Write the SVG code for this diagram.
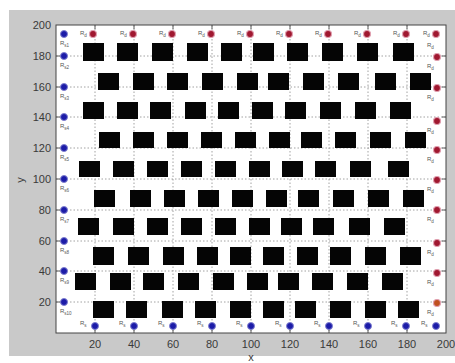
<svg xmlns="http://www.w3.org/2000/svg" width="455" height="363" viewBox="0 0 455 363">
<style>
.tick{font-family:"Liberation Sans",Arial,sans-serif;font-size:11px;fill:#3a3a3a}
.lbl{font-family:"Liberation Sans",Arial,sans-serif;font-size:6px;fill:#555}
.grid{stroke:#8a8a8a;stroke-width:0.8;stroke-dasharray:1.5,2;fill:none}
.blk{fill:#050505}
.bd{fill:#1c1ca8;stroke:#8080d0;stroke-width:1}
.rd{fill:#a01830;stroke:#e0a0b0;stroke-width:1.2}
.tk{stroke:#333;stroke-width:0.8}
</style>
<rect x="0" y="0" width="455" height="363" fill="#ffffff"/>
<rect x="9" y="10" width="446" height="346" fill="#c9c9c9"/>
<rect x="56" y="25" width="390" height="308" fill="#ffffff" stroke="#444" stroke-width="1"/>
<g id="grid">
<path class="grid" d="M95 25V333M134 25V333M173 25V333M212 25V333M251 25V333M290 25V333M329 25V333M368 25V333M407 25V333"/>
<path class="grid" d="M56 302H446M56 271H446M56 241H446M56 210H446M56 179H446M56 148H446M56 117H446M56 87H446M56 56H446"/>
</g>
<g id="ticks">
<path class="tk" d="M95 333v-4M134 333v-4M173 333v-4M212 333v-4M251 333v-4M290 333v-4M329 333v-4M368 333v-4M407 333v-4M95 25v4M134 25v4M173 25v4M212 25v4M251 25v4M290 25v4M329 25v4M368 25v4M407 25v4M56 302h4M56 271h4M56 241h4M56 210h4M56 179h4M56 148h4M56 117h4M56 87h4M56 56h4M446 302h-4M446 271h-4M446 241h-4M446 210h-4M446 179h-4M446 148h-4M446 117h-4M446 87h-4M446 56h-4"/>
</g>
<g id="ylabels" class="tick" text-anchor="end">
<text x="51" y="29">200</text>
<text x="51" y="60">180</text>
<text x="51" y="91">160</text>
<text x="51" y="121">140</text>
<text x="51" y="152">120</text>
<text x="51" y="183">100</text>
<text x="51" y="214">80</text>
<text x="51" y="245">60</text>
<text x="51" y="275">40</text>
<text x="51" y="306">20</text>
</g>
<g id="xlabels" class="tick" text-anchor="middle">
<text x="95" y="348">20</text>
<text x="134" y="348">40</text>
<text x="173" y="348">60</text>
<text x="212" y="348">80</text>
<text x="251" y="348">100</text>
<text x="290" y="348">120</text>
<text x="329" y="348">140</text>
<text x="368" y="348">160</text>
<text x="407" y="348">180</text>
<text x="446" y="348">200</text>
</g>
<text class="tick" x="251" y="361" text-anchor="middle">x</text>
<text class="tick" x="0" y="0" text-anchor="middle" transform="translate(24 180) rotate(-90)">y</text>
<g id="obstacles" class="blk">
<rect x="83" y="43" width="21" height="18"/><rect x="117" y="43" width="21" height="18"/><rect x="152" y="43" width="21" height="18"/><rect x="187" y="43" width="21" height="18"/><rect x="221" y="43" width="21" height="18"/><rect x="253" y="43" width="21" height="18"/><rect x="287" y="43" width="21" height="18"/><rect x="322" y="43" width="21" height="18"/><rect x="357" y="43" width="21" height="18"/><rect x="393" y="43" width="21" height="18"/>
<rect x="98" y="73" width="21" height="17"/><rect x="133" y="73" width="21" height="17"/><rect x="167" y="73" width="21" height="17"/><rect x="202" y="73" width="21" height="17"/><rect x="237" y="73" width="21" height="17"/><rect x="268" y="73" width="21" height="17"/><rect x="303" y="73" width="21" height="17"/><rect x="338" y="73" width="21" height="17"/><rect x="375" y="73" width="21" height="17"/><rect x="410" y="73" width="21" height="17"/>
<rect x="83" y="102" width="21" height="17"/><rect x="117" y="102" width="21" height="17"/><rect x="150" y="102" width="21" height="17"/><rect x="185" y="102" width="21" height="17"/><rect x="218" y="102" width="21" height="17"/><rect x="252" y="102" width="21" height="17"/><rect x="285" y="102" width="21" height="17"/><rect x="320" y="102" width="21" height="17"/><rect x="355" y="102" width="21" height="17"/><rect x="390" y="102" width="21" height="17"/>
<rect x="99" y="132" width="21" height="16"/><rect x="133" y="132" width="21" height="16"/><rect x="167" y="132" width="21" height="16"/><rect x="201" y="132" width="21" height="16"/><rect x="235" y="132" width="21" height="16"/><rect x="269" y="132" width="21" height="16"/><rect x="301" y="132" width="21" height="16"/><rect x="335" y="132" width="21" height="16"/><rect x="370" y="132" width="21" height="16"/><rect x="405" y="132" width="21" height="16"/>
<rect x="79" y="161" width="21" height="16"/><rect x="113" y="161" width="21" height="16"/><rect x="147" y="161" width="21" height="16"/><rect x="181" y="161" width="21" height="16"/><rect x="215" y="161" width="21" height="16"/><rect x="249" y="161" width="21" height="16"/><rect x="282" y="161" width="21" height="16"/><rect x="315" y="161" width="21" height="16"/><rect x="350" y="161" width="21" height="16"/><rect x="388" y="161" width="21" height="16"/>
<rect x="94" y="190" width="21" height="17"/><rect x="130" y="190" width="21" height="17"/><rect x="164" y="190" width="21" height="17"/><rect x="198" y="190" width="21" height="17"/><rect x="232" y="190" width="21" height="17"/><rect x="266" y="190" width="21" height="17"/><rect x="298" y="190" width="21" height="17"/><rect x="333" y="190" width="21" height="17"/><rect x="368" y="190" width="21" height="17"/><rect x="403" y="190" width="21" height="17"/>
<rect x="78" y="218" width="21" height="17"/><rect x="113" y="218" width="21" height="17"/><rect x="147" y="218" width="21" height="17"/><rect x="181" y="218" width="21" height="17"/><rect x="215" y="218" width="21" height="17"/><rect x="249" y="218" width="21" height="17"/><rect x="281" y="218" width="21" height="17"/><rect x="313" y="218" width="21" height="17"/><rect x="349" y="218" width="21" height="17"/><rect x="384" y="218" width="21" height="17"/>
<rect x="93" y="247" width="21" height="18"/><rect x="128" y="247" width="21" height="18"/><rect x="163" y="247" width="21" height="18"/><rect x="197" y="247" width="21" height="18"/><rect x="230" y="247" width="21" height="18"/><rect x="263" y="247" width="21" height="18"/><rect x="297" y="247" width="21" height="18"/><rect x="330" y="247" width="21" height="18"/><rect x="365" y="247" width="21" height="18"/><rect x="400" y="247" width="21" height="18"/>
<rect x="75" y="273" width="21" height="17"/><rect x="110" y="273" width="21" height="17"/><rect x="143" y="273" width="21" height="17"/><rect x="178" y="273" width="21" height="17"/><rect x="213" y="273" width="21" height="17"/><rect x="247" y="273" width="21" height="17"/><rect x="278" y="273" width="21" height="17"/><rect x="312" y="273" width="21" height="17"/><rect x="347" y="273" width="21" height="17"/><rect x="382" y="273" width="21" height="17"/>
<rect x="93" y="301" width="21" height="17"/><rect x="126" y="301" width="21" height="17"/><rect x="162" y="301" width="21" height="17"/><rect x="195" y="301" width="21" height="17"/><rect x="230" y="301" width="21" height="17"/><rect x="263" y="301" width="21" height="17"/><rect x="295" y="301" width="21" height="17"/><rect x="330" y="301" width="21" height="17"/><rect x="365" y="301" width="21" height="17"/><rect x="398" y="301" width="21" height="17"/>
</g>
<g id="blue-nodes">
<circle class="bd" cx="64" cy="34" r="3.5"/><circle class="bd" cx="64" cy="56" r="3.5"/><circle class="bd" cx="64" cy="87" r="3.5"/><circle class="bd" cx="64" cy="117" r="3.5"/><circle class="bd" cx="64" cy="148" r="3.5"/><circle class="bd" cx="64" cy="179" r="3.5"/><circle class="bd" cx="64" cy="210" r="3.5"/><circle class="bd" cx="64" cy="241" r="3.5"/><circle class="bd" cx="64" cy="271" r="3.5"/><circle class="bd" cx="64" cy="302" r="3.5"/>
<circle class="bd" cx="95" cy="326" r="3.5"/><circle class="bd" cx="134" cy="326" r="3.5"/><circle class="bd" cx="173" cy="326" r="3.5"/><circle class="bd" cx="212" cy="326" r="3.5"/><circle class="bd" cx="251" cy="326" r="3.5"/><circle class="bd" cx="290" cy="326" r="3.5"/><circle class="bd" cx="329" cy="326" r="3.5"/><circle class="bd" cx="368" cy="326" r="3.5"/><circle class="bd" cx="406" cy="326" r="3.5"/><circle class="bd" cx="436" cy="326" r="3.5"/>
</g>
<g id="red-nodes">
<circle class="rd" cx="93" cy="34" r="3.5"/><circle class="rd" cx="133" cy="34" r="3.5"/><circle class="rd" cx="172" cy="34" r="3.5"/><circle class="rd" cx="211" cy="34" r="3.5"/><circle class="rd" cx="250" cy="34" r="3.5"/><circle class="rd" cx="289" cy="34" r="3.5"/><circle class="rd" cx="328" cy="34" r="3.5"/><circle class="rd" cx="367" cy="34" r="3.5"/><circle class="rd" cx="406" cy="34" r="3.5"/><circle class="rd" cx="436" cy="34" r="3.5"/>
<circle class="rd" cx="437" cy="57" r="3.5"/><circle class="rd" cx="437" cy="88" r="3.5"/><circle class="rd" cx="437" cy="121" r="3.5"/><circle class="rd" cx="437" cy="150" r="3.5"/><circle class="rd" cx="437" cy="180" r="3.5"/><circle class="rd" cx="437" cy="210" r="3.5"/><circle class="rd" cx="437" cy="243" r="3.5"/><circle class="rd" cx="437" cy="273" r="3.5"/><circle class="rd" cx="437" cy="303" r="3.5" style="fill:#c05020"/>
</g>
<g id="labels" class="lbl">
<text x="60" y="45">R<tspan font-size="4.5" dy="2">s1</tspan></text>
<text x="60" y="67">R<tspan font-size="4.5" dy="2">s2</tspan></text>
<text x="60" y="98">R<tspan font-size="4.5" dy="2">s3</tspan></text>
<text x="60" y="128">R<tspan font-size="4.5" dy="2">s4</tspan></text>
<text x="60" y="159">R<tspan font-size="4.5" dy="2">s5</tspan></text>
<text x="60" y="190">R<tspan font-size="4.5" dy="2">s6</tspan></text>
<text x="60" y="221">R<tspan font-size="4.5" dy="2">s7</tspan></text>
<text x="60" y="252">R<tspan font-size="4.5" dy="2">s8</tspan></text>
<text x="60" y="282">R<tspan font-size="4.5" dy="2">s9</tspan></text>
<text x="60" y="313">R<tspan font-size="4.5" dy="2">s10</tspan></text>
<text x="80" y="325">R<tspan font-size="4.5" dy="2">s</tspan></text>
<text x="119" y="325">R<tspan font-size="4.5" dy="2">s</tspan></text>
<text x="158" y="325">R<tspan font-size="4.5" dy="2">s</tspan></text>
<text x="197" y="325">R<tspan font-size="4.5" dy="2">s</tspan></text>
<text x="236" y="325">R<tspan font-size="4.5" dy="2">s</tspan></text>
<text x="275" y="325">R<tspan font-size="4.5" dy="2">s</tspan></text>
<text x="314" y="325">R<tspan font-size="4.5" dy="2">s</tspan></text>
<text x="353" y="325">R<tspan font-size="4.5" dy="2">s</tspan></text>
<text x="391" y="325">R<tspan font-size="4.5" dy="2">s</tspan></text>
<text x="421" y="325">R<tspan font-size="4.5" dy="2">s</tspan></text>
<text x="80" y="35">R<tspan font-size="4.5" dy="2">d</tspan></text>
<text x="120" y="35">R<tspan font-size="4.5" dy="2">d</tspan></text>
<text x="159" y="35">R<tspan font-size="4.5" dy="2">d</tspan></text>
<text x="198" y="35">R<tspan font-size="4.5" dy="2">d</tspan></text>
<text x="237" y="35">R<tspan font-size="4.5" dy="2">d</tspan></text>
<text x="276" y="35">R<tspan font-size="4.5" dy="2">d</tspan></text>
<text x="315" y="35">R<tspan font-size="4.5" dy="2">d</tspan></text>
<text x="354" y="35">R<tspan font-size="4.5" dy="2">d</tspan></text>
<text x="393" y="35">R<tspan font-size="4.5" dy="2">d</tspan></text>
<text x="423" y="35">R<tspan font-size="4.5" dy="2">d</tspan></text>
<text x="427" y="47">R<tspan font-size="4.5" dy="2">d</tspan></text>
<text x="427" y="68">R<tspan font-size="4.5" dy="2">d</tspan></text>
<text x="427" y="99">R<tspan font-size="4.5" dy="2">d</tspan></text>
<text x="427" y="132">R<tspan font-size="4.5" dy="2">d</tspan></text>
<text x="427" y="161">R<tspan font-size="4.5" dy="2">d</tspan></text>
<text x="427" y="191">R<tspan font-size="4.5" dy="2">d</tspan></text>
<text x="427" y="221">R<tspan font-size="4.5" dy="2">d</tspan></text>
<text x="427" y="254">R<tspan font-size="4.5" dy="2">d</tspan></text>
<text x="427" y="284">R<tspan font-size="4.5" dy="2">d</tspan></text>
<text x="427" y="314">R<tspan font-size="4.5" dy="2">d</tspan></text>
</g>
</svg>
